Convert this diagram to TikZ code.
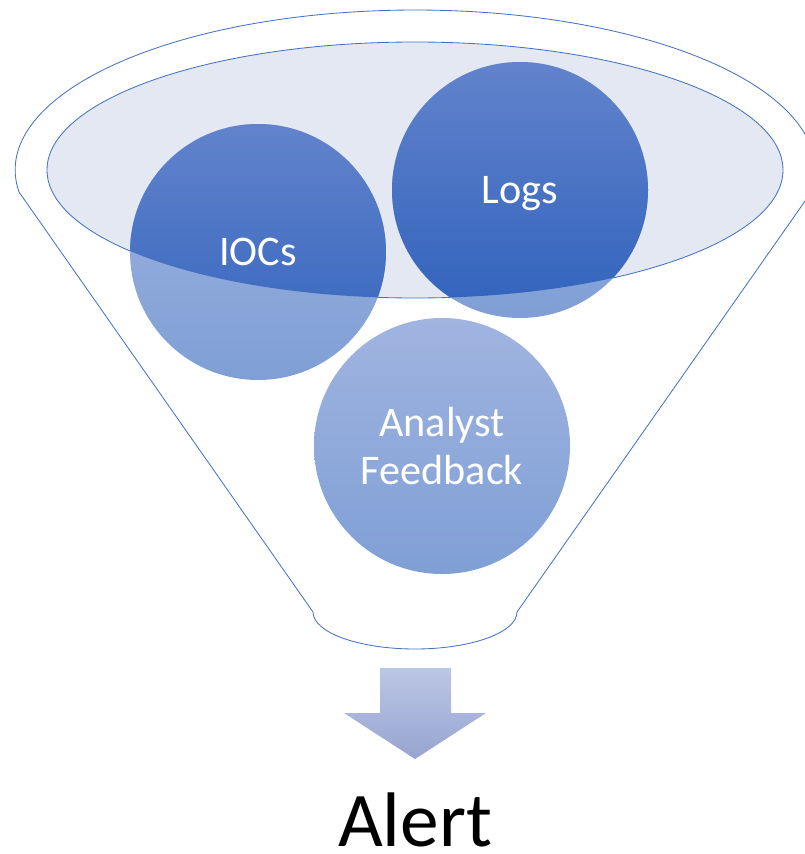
\documentclass[tikz,border=0pt]{standalone}
\usepackage{fontspec}
\setmainfont{Carlito}
\usetikzlibrary{backgrounds}
\definecolor{rim}{RGB}{68,114,196}
\definecolor{mouth}{RGB}{228,232,243}
\definecolor{paletop}{RGB}{160,180,224}
\definecolor{palebottom}{RGB}{127,159,213}
\definecolor{deeptop}{RGB}{98,131,204}
\definecolor{deepbottom}{RGB}{48,98,188}
\definecolor{arrowtop}{RGB}{188,198,230}
\definecolor{arrowbottom}{RGB}{150,164,207}

\begin{document}
\begin{tikzpicture}[
    x=0.025cm,
    y=0.025cm,
    bubble/.style={
        circle,
        minimum size=6.4cm,
        inner sep=0pt,
        text=white,
        font=\fontsize{30}{34}\selectfont,
        align=center
    },
    oneline/.style={
        text height=19.5pt,
        text depth=0pt
    },
    outline/.style={
        draw=rim,
        line width=0.6pt
    },
    pale/.style={top color=paletop, bottom color=palebottom},
    deep/.style={top color=deeptop, bottom color=deepbottom}
]
\useasboundingbox (0,0) rectangle (804,-854);

\node[
    bubble,
    oneline
] (iocs) at (258,-252)
{IOCs};

\node[
    bubble,
    oneline
] (logs) at (520,-190)
{Logs};

\node[
    bubble
] (feedback) at (442,-446)
{Analyst\\Feedback};

\node[
    font=\fontsize{55}{60}\selectfont,
    inner sep=0pt,
    text depth=0pt,
    anchor=base
] (alert) at (415,-846)
{Alert};

\begin{scope}[on background layer]
% funnel body
\draw[outline]
(19,-192) arc[start angle=187.9, end angle=-7.9, x radius=400, y radius=160]
-- (517,-612) arc[start angle=0, end angle=-180, x radius=102, y radius=37]
-- cycle;

% mouth of the funnel
\draw[outline, fill=mouth]
(415,-170) ellipse[x radius=368, y radius=128];

\foreach \b in {iocs,logs,feedback}
    \shade[pale] (\b.center) circle[radius=128];

\begin{scope}
\clip (415,-170) ellipse[x radius=368, y radius=128];
\foreach \b in {iocs,logs}
    \shade[deep] (\b.center) circle[radius=128];
\end{scope}

% arrow down to the alert
\shade[
    top color=arrowtop,
    bottom color=arrowbottom
]
(380,-668) -- (451,-668) -- (451,-713) -- (486,-713)
-- (415,-759) -- (344,-713) -- (380,-713) -- cycle;
\end{scope}

\end{tikzpicture}
\end{document}
